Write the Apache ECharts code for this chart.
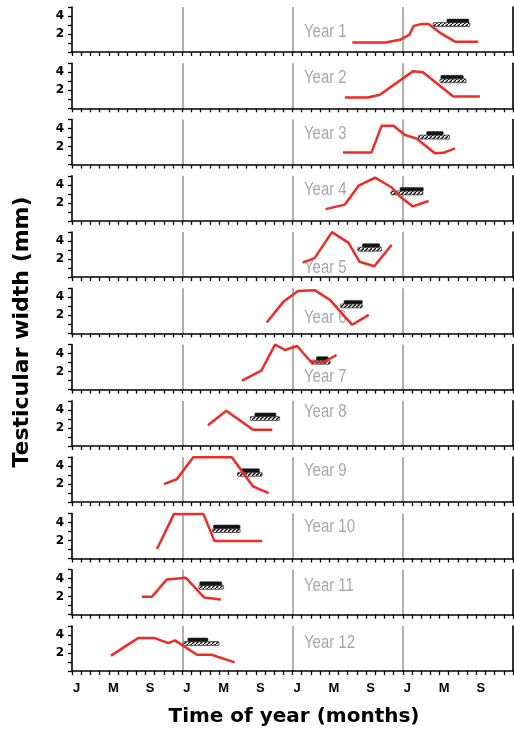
<!DOCTYPE html>
<html><head><meta charset="utf-8">
<script src="https://cdn.jsdelivr.net/npm/echarts@6/dist/echarts.min.js"></script>
<style>html,body{margin:0;padding:0;background:#fff}#c{width:514px;height:733px}</style>
</head><body><div id="c"></div><script>
// ---- data ----
const monthLetters = ['J','F','M','A','M','J','J','A','S','O','N','D'];
const yTickLabels = [2, 4];
const yearNames = ['Year 1','Year 2','Year 3','Year 4','Year 5','Year 6','Year 7','Year 8','Year 9','Year 10','Year 11','Year 12'];
const yearLabelY = [2.2, 3.35, 3.4, 3.4, 1.0, 1.7, 1.35, 3.8, 3.5, 3.5, 3.2, 3.1];
const yearLabelX = 25.25;
// testicular width (mm) vs month index (0 = start of first January)
const year1 = [[30.5,1.05],[34.1,1.05],[35.7,1.35],[36.7,1.9],[37.2,2.9],[38.0,3.1],[38.8,3.1],[40.1,2.1],[41.7,1.15],[44.2,1.15]];
const year2 = [[29.7,1.2],[32.2,1.2],[33.5,1.5],[37.1,4.1],[38.2,4.0],[41.5,1.3],[44.4,1.3]];
const year3 = [[29.5,1.35],[32.6,1.35],[33.7,4.3],[35.0,4.3],[36.2,3.3],[37.5,2.9],[39.5,1.25],[40.4,1.3],[41.7,1.8]];
const year4 = [[27.6,1.3],[29.7,1.8],[31.2,3.9],[33.0,4.8],[34.8,3.7],[35.7,2.7],[37.1,1.6],[38.8,2.2]];
const year5 = [[25.1,1.6],[26.4,2.1],[28.3,5.0],[30.1,3.8],[31.3,1.7],[32.9,1.2],[34.8,3.6]];
const year6 = [[21.2,1.2],[23.0,3.5],[24.6,4.7],[26.4,4.8],[28.1,3.7],[29.4,2.2],[30.5,0.95],[32.3,2.05]];
const year7 = [[18.5,1.0],[20.6,2.1],[22.1,5.0],[23.2,4.4],[24.5,4.85],[26.0,3.1],[27.3,3.0],[28.8,3.85]];
const year8 = [[14.8,2.3],[16.8,3.9],[19.7,1.8],[21.8,1.8]];
const year9 = [[10.0,2.0],[11.4,2.55],[13.2,5.0],[17.4,5.0],[19.7,1.75],[21.4,1.0]];
const year10 = [[9.25,1.05],[11.1,4.95],[14.3,4.95],[15.5,1.95],[20.7,1.95]];
const year11 = [[7.6,2.0],[8.7,2.0],[10.3,3.9],[12.4,4.1],[14.4,1.9],[16.2,1.7]];
const year12 = [[4.24,1.7],[7.2,3.65],[9.0,3.65],[10.5,3.1],[11.2,3.4],[13.6,1.8],[15.2,1.8],[17.7,0.95]];
const widthSeries = [year1,year2,year3,year4,year5,year6,year7,year8,year9,year10,year11,year12];
// bars: [startMonth, endMonth, level]
const hatchBars = [[39.3,43.3,3.05],[40.05,42.9,3.05],[37.7,41.1,3.05],[34.7,38.2,3.1],[31.1,33.7,3.1],[29.2,31.6,3.05],[26.0,28.1,3.05],[19.4,22.6,3.05],[18.0,20.7,3.1],[15.3,18.3,3.1],[13.8,16.5,3.05],[12.1,16.0,3.05]];
const solidBars = [[40.8,43.2,3.05],[40.15,42.6,3.05],[38.6,40.4,3.05],[35.7,38.25,3.1],[31.6,33.5,3.1],[29.6,31.6,3.05],[26.6,27.9,3.05],[19.9,22.2,3.05],[18.4,20.4,3.1],[15.4,18.3,3.1],[13.9,16.3,3.05],[12.6,14.8,3.05]];

// ---- chart ----
const monthCats = [].concat(monthLetters, monthLetters, monthLetters, monthLetters);
const pc = document.createElement('canvas'); pc.width = 4; pc.height = 4;
const g = pc.getContext('2d');
g.fillStyle = '#e4e4e4'; g.fillRect(0,0,4,4);
g.strokeStyle = '#111'; g.lineWidth = 1.3;
g.beginPath(); g.moveTo(-1,5); g.lineTo(5,-1); g.stroke();
const hatchFill = {image: pc, repeat: 'repeat'};

function hatchRender(params, api){
  const p0 = api.coord([api.value(0), api.value(2)]);
  const p1 = api.coord([api.value(1), api.value(2)]);
  return {type:'rect', shape:{x:p0[0], y:p0[1]-2, width:p1[0]-p0[0], height:4, r:1},
    style:{fill: hatchFill, stroke:'#444', lineWidth:0.8}};
}
function solidRender(params, api){
  const p0 = api.coord([api.value(0), api.value(2)]);
  const p1 = api.coord([api.value(1), api.value(2)]);
  return {type:'rect', shape:{x:p0[0], y:p0[1]-5.5, width:p1[0]-p0[0], height:3.5, r:1},
    style:{fill:'#111', stroke:'#333', lineWidth:0.6}};
}
function labelRender(params, api){
  const p = api.coord([api.value(0), api.value(1)]);
  return {type:'text', x:p[0], y:p[1], scaleX:0.83,
    style:{text: yearNames[api.value(2)], fill:'#a8a8a8', fontSize:18, fontFamily:'Liberation Sans',
      align:'left', verticalAlign:'middle'}};
}

const grids = [], xAxes = [], yAxes = [], series = [];
const N = 12, step = 56.27;
for (let k = 0; k < N; k++) {
  grids.push({left:72, width:441, top: 7 + step*k, height:45});
  xAxes.push({type:'category', gridIndex:k, data: monthCats, boundaryGap:true, position:'bottom',
    axisLine:{onZero:false, lineStyle:{color:'#000', width:1.6}},
    axisTick:{show:true, interval:0, length:4, lineStyle:{color:'#000', width:1.3}},
    axisLabel:{show:k===N-1, interval:3, margin:11, color:'#000', fontFamily:'Liberation Sans', fontWeight:'bold', fontSize:13},
    splitLine:{show:false}});
  xAxes.push({type:'value', gridIndex:k, position:'top', min:0, max:48, interval:12,
    axisLine:{show:false}, axisTick:{show:false}, axisLabel:{show:false},
    splitLine:{show:true, showMinLine:false, showMaxLine:false, lineStyle:{color:'#9c9c9c', width:1.6}}});
  yAxes.push({type:'value', gridIndex:k, position:'left', min:0, max:5, interval:1,
    axisLine:{show:true, onZero:false, lineStyle:{color:'#000', width:1.6}},
    axisTick:{show:true, length:4, lineStyle:{color:'#000', width:1.3}},
    axisLabel:{margin:8, color:'#000', fontFamily:'DejaVu Sans', fontWeight:'bold', fontSize:12,
      formatter: v => yTickLabels.indexOf(v) >= 0 ? String(v) : ''},
    splitLine:{show:false}});
  yAxes.push({type:'value', gridIndex:k, position:'right', min:0, max:5,
    axisLine:{show:true, onZero:false, lineStyle:{color:'#000', width:1.6}},
    axisTick:{show:false}, axisLabel:{show:false}, splitLine:{show:false}});
  const xi = 2*k+1, yi = 2*k;
  series.push({type:'custom', xAxisIndex:xi, yAxisIndex:yi, renderItem: labelRender,
    encode:{x:0, y:1}, data:[[yearLabelX, yearLabelY[k], k]], z:2, silent:true});
  series.push({type:'custom', xAxisIndex:xi, yAxisIndex:yi, renderItem: hatchRender,
    encode:{x:[0,1], y:2}, data:[hatchBars[k]], z:3});
  series.push({type:'custom', xAxisIndex:xi, yAxisIndex:yi, renderItem: solidRender,
    encode:{x:[0,1], y:2}, data:[solidBars[k]], z:4});
  series.push({type:'line', xAxisIndex:xi, yAxisIndex:yi, data: widthSeries[k], symbol:'none', smooth:false,
    lineStyle:{color:'#ee2b24', width:2.5}, z:5});
}

const chart = echarts.init(document.getElementById('c'), null, {renderer:'canvas'});
chart.setOption({
  animation:false, backgroundColor:'#fff',
  grid: grids, xAxis: xAxes, yAxis: yAxes, series: series,
  graphic:[
    {type:'text', x:22, y:332, rotation: Math.PI/2,
      style:{text:'Testicular width (mm)', fontFamily:'DejaVu Sans', fontWeight:'bold', fontSize:22, fill:'#000', align:'center', verticalAlign:'middle'}},
    {type:'text', x:294, y:717,
      style:{text:'Time of year (months)', fontFamily:'DejaVu Sans', fontWeight:'bold', fontSize:20, fill:'#000', align:'center', verticalAlign:'middle'}}
  ]
});
</script></body></html>
